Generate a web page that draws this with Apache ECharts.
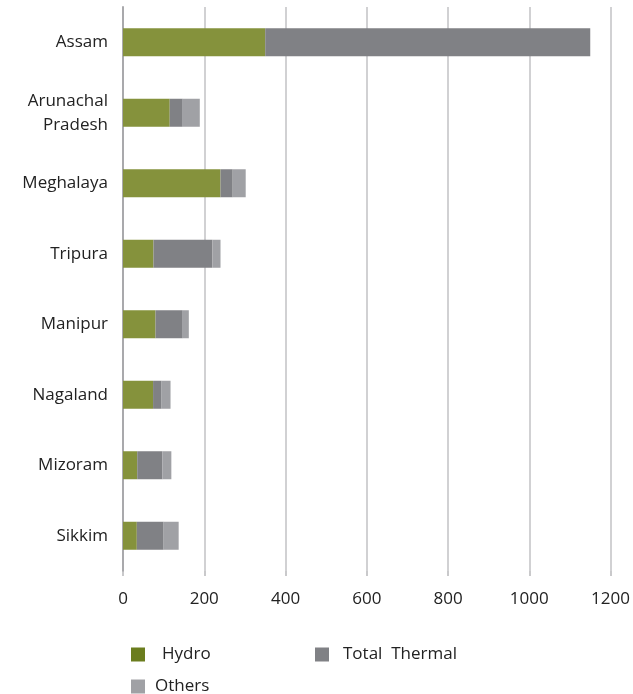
<!DOCTYPE html>
<html>
<head>
<meta charset="utf-8">
<script src="https://cdn.jsdelivr.net/npm/echarts@6/dist/echarts.min.js"></script>
<style>html,body{margin:0;padding:0;background:#fff}#c{width:633px;height:694px}</style>
</head>
<body>
<div id="c"></div>
<script>
const categories = ['Assam', 'Arunachal\nPradesh', 'Meghalaya', 'Tripura', 'Manipur', 'Nagaland', 'Mizoram', 'Sikkim'];
const hydro = [350, 115, 240, 75, 80, 74, 35, 34];
const thermal = [800, 32, 30, 145, 67, 21, 62, 66];
const others = [0, 42, 32, 20, 15, 22, 22, 37];
const xTicks = [0, 200, 400, 600, 800, 1000, 1200];

const font = '"Open Sans", Lato, sans-serif';
const chart = echarts.init(document.getElementById('c'));
function legendAt(data, left, top, padLeft, formatter) {
  const l = {
    data: data, left: left, top: top,
    orient: 'horizontal', itemWidth: 14, itemHeight: 14, itemGap: 10, icon: 'rect', padding: 0,
    textStyle: { fontSize: 17, color: '#222', fontFamily: font, padding: [0, 0, 0, padLeft] }
  };
  if (formatter) l.formatter = formatter;
  return l;
}
chart.setOption({
  animation: false,
  grid: { left: 123, right: 22, top: 7, bottom: 123, containLabel: false },
  xAxis: {
    type: 'value', min: xTicks[0], max: xTicks[xTicks.length - 1], interval: 200,
    axisLine: { show: false },
    axisTick: { show: true, length: 5, lineStyle: { color: '#b8b8ba', width: 1.5 } },
    axisLabel: { fontSize: 17, color: '#222', fontFamily: font, margin: 20, formatter: v => String(v) },
    splitLine: { show: true, lineStyle: { color: '#c2c2c4', width: 1.5 } }
  },
  yAxis: {
    type: 'category', data: categories, inverse: true,
    axisLine: { show: true, lineStyle: { color: '#a9a9ac', width: 2 } },
    axisTick: { show: false },
    axisLabel: { fontSize: 17, color: '#222', fontFamily: font, margin: 15, align: 'right', lineHeight: 24 }
  },
  legend: [
    legendAt([{ name: 'Hydro', itemStyle: { color: '#6b7d1e' } }], 131, 646, 12),
    legendAt(['Total Thermal'], 315, 646, 9, () => 'Total  Thermal'),
    legendAt(['Others'], 131, 678, 5)
  ],
  series: [
    { name: 'Hydro', type: 'bar', stack: 't', data: hydro, barWidth: 28, itemStyle: { color: '#85923c' } },
    { name: 'Total Thermal', type: 'bar', stack: 't', data: thermal, barWidth: 28, itemStyle: { color: '#808185' } },
    { name: 'Others', type: 'bar', stack: 't', data: others, barWidth: 28, itemStyle: { color: '#a0a1a5' } }
  ]
});
</script>
</body>
</html>
